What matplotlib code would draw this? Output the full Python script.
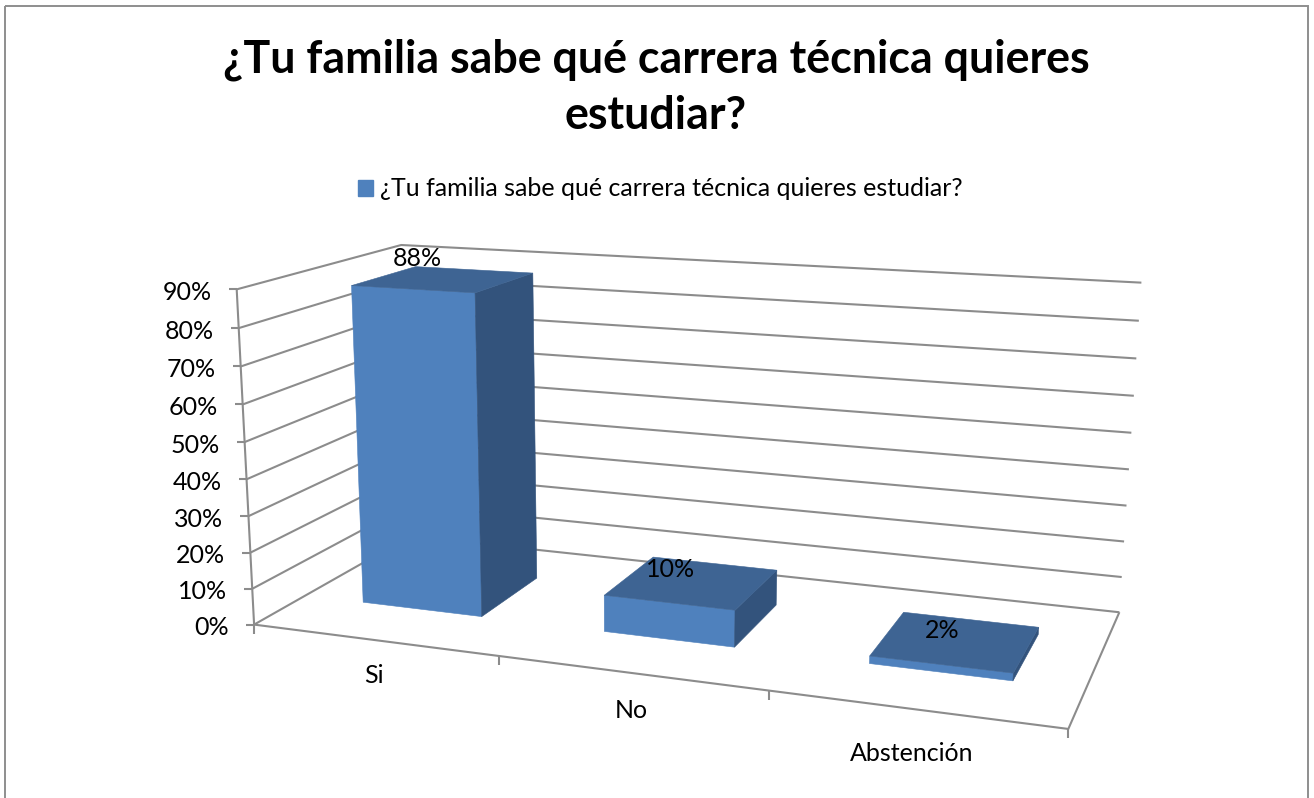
import numpy as np
import matplotlib
matplotlib.use("Agg")
import matplotlib.pyplot as plt
from matplotlib.patches import Patch, Polygon, Rectangle

TITLE = "¿Tu familia sabe qué carrera técnica quieres\nestudiar?"
SERIES_NAME = "¿Tu familia sabe qué carrera técnica quieres estudiar?"
CATEGORIES = ["Si", "No", "Abstención"]
VALUES = [0.88, 0.10, 0.02]
VALUE_LABELS = ["88%", "10%", "2%"]
Y_TICKS = [0.0, 0.1, 0.2, 0.3, 0.4, 0.5, 0.6, 0.7, 0.8, 0.9]
Y_TICK_LABELS = ["0%", "10%", "20%", "30%", "40%", "50%", "60%", "70%", "80%", "90%"]

W, H = 1314, 798
FONT = "Lato"
FS = 18
FRONT, TOP, SIDE = "#4F81BD", "#3E6493", "#33537C"
GRID = "#8C8C8C"
BAR_X = (0.252, 0.755)
BAR_Z = (0.30, 0.71)
LABEL_OFFSETS = [(2, -8), (17, 12), (39, 18)]
CAT_OFFSETS = [(0, 36), (1, 38), (-3, 44)]

# Perspective camera for the 3-D box: (category, depth, value) to pixels
CAL = [((0, 0, 0), (256, 624)), ((3, 0, 0), (1068, 730)), ((0, 1, 0), (408, 537)),
       ((3, 1, 0), (1120, 611)), ((0, 0, .9), (235, 289)), ((0, 1, .9), (403, 245)),
       ((3, 1, .9), (1141, 283))]
rows = []
for (x, z, v), (u, w) in CAL:
    rows.append([x, z, v, 1, 0, 0, 0, 0, -u * x, -u * z, -u * v, -u])
    rows.append([0, 0, 0, 0, x, z, v, 1, -w * x, -w * z, -w * v, -w])
P = np.linalg.svd(np.array(rows, float))[2][-1].reshape(3, 4)


def proj(x, z, v):
    a = P @ np.array([x, z, v, 1.0])
    return a[0] / a[2], a[1] / a[2]


fig = plt.figure(figsize=(W / 100, H / 100), dpi=100, facecolor="white")
ax = fig.add_axes([0, 0, 1, 1])
ax.set_xlim(0, W)
ax.set_ylim(H, 0)
ax.axis("off")

ax.add_patch(Rectangle((5, 6), 1303, 820, fill=False, ec="#8E8E8E", lw=1.4))


def line(pts, **kw):
    xs, ys = zip(*pts)
    ax.plot(xs, ys, color=GRID, lw=1.5, solid_capstyle="butt", zorder=1, **kw)


for v, lab in zip(Y_TICKS, Y_TICK_LABELS):
    line([proj(0, 0, v), proj(0, 1, v), proj(3, 1, v)])
    fx, fy = proj(0, 0, v)
    line([(fx - 8, fy), (fx, fy)])
    ax.text(fx - 25, fy + 3, lab, ha="right", va="center", family=FONT, fontsize=FS, color="black")
line([proj(0, 0, 0), proj(0, 0, .9)])
line([proj(0, 0, 0), proj(3, 0, 0), proj(3, 1, 0)])
for i in range(len(CATEGORIES) + 1):
    fx, fy = proj(i, 0, 0)
    line([(fx, fy), (fx, fy + 9)])

for i, (cat, val, lab) in enumerate(zip(CATEGORIES, VALUES, VALUE_LABELS)):
    x0, x1 = i + BAR_X[0], i + BAR_X[1]
    z0, z1 = BAR_Z
    faces = [([(x0, z0, 0), (x1, z0, 0), (x1, z0, val), (x0, z0, val)], FRONT),
             ([(x1, z0, 0), (x1, z1, 0), (x1, z1, val), (x1, z0, val)], SIDE),
             ([(x0, z0, val), (x1, z0, val), (x1, z1, val), (x0, z1, val)], TOP)]
    for pts, col in faces:
        ax.add_patch(Polygon([proj(*p) for p in pts], closed=True, fc=col, ec=col, lw=0.4, zorder=2))
    ax_, ay_ = proj(x0, z1, val)
    dx, dy = LABEL_OFFSETS[i]
    ax.text(ax_ + dx, ay_ + dy, lab, ha="center", va="center", family=FONT, fontsize=FS, color="black", zorder=3)
    cx, cy = proj(i + 0.5, 0, 0)
    dx, dy = CAT_OFFSETS[i]
    ax.text(cx + dx, cy + dy, cat, ha="center", va="center", family=FONT, fontsize=FS, color="black")

ax.text(656, 88, TITLE, ha="center", va="center", family=FONT, weight="bold", fontsize=32.25,
        linespacing=1.42, color="black")

leg = ax.legend(handles=[Patch(fc=FRONT, ec=FRONT, label=SERIES_NAME)], loc="center",
                bbox_to_anchor=(660.5, 189), bbox_transform=ax.transData, frameon=False,
                prop={"family": FONT, "size": FS}, handlelength=0.6, handleheight=0.6,
                handletextpad=0.28, borderpad=0, labelcolor="black")

fig.savefig("out.png", dpi=100, facecolor="white")
